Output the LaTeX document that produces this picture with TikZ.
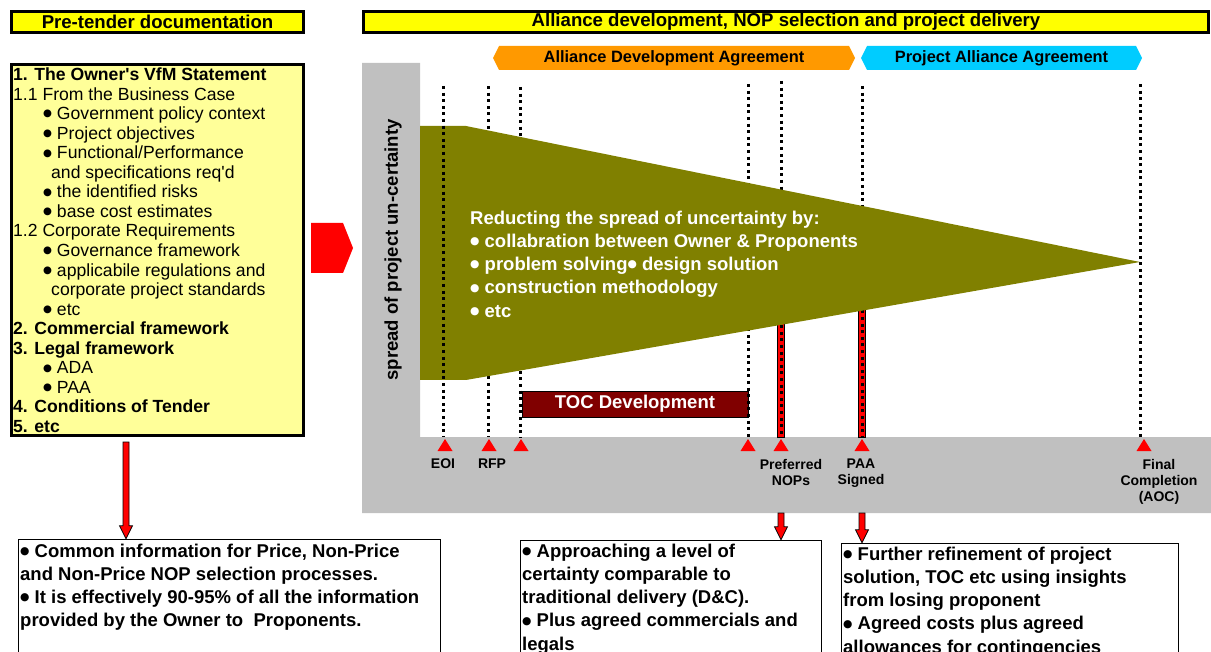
\documentclass[tikz,border=0pt]{standalone}
\usepackage{fontspec}
\setmainfont{Liberation Sans}[Ligatures=TeXOff]
\newfontfamily\symfont{DejaVu Sans}
\usetikzlibrary{positioning}
\usetikzlibrary{calc}
\definecolor{hdryellow}{HTML}{FFFF00}
\definecolor{paleyellow}{HTML}{FFFF99}
\definecolor{panelgray}{HTML}{C0C0C0}
\definecolor{oliveband}{HTML}{808000}
\definecolor{adaorange}{HTML}{FF9900}
\definecolor{paacyan}{HTML}{00CCFF}
\definecolor{tocred}{HTML}{800000}

\tikzset{
	header/.style={draw, line width=3pt, fill=hdryellow, minimum height=21pt, inner sep=0pt, font=\fontsize{18.6}{20}\selectfont\bfseries},
	banner/.style={inner sep=0pt, font=\fontsize{16.4}{18}\selectfont\bfseries},
	notebox/.style={draw, line width=1.5pt, fill=white, anchor=north west, inner sep=0pt},
	notetext/.style={anchor=north west, inner sep=0pt, align=left, font=\fontsize{18.5}{23.3}\selectfont\bfseries},
	dots/.style={line width=3pt, dash pattern=on 3pt off 3.6pt},
	milelabel/.style={anchor=north, inner sep=0pt, align=center, font=\fontsize{14}{16}\selectfont\bfseries},
}

% round bullet
\newcommand{\blt}{\raisebox{0.15em}{\scalebox{0.58}{\symfont ●}}}

% block arrow from #1 down to the tip #2
\newcommand{\blockarrow}[2]{%
	\filldraw[fill=red, draw=black, line width=0.8pt] let \p1=(#1), \p2=(#2) in
		(\x1-3pt,\y1) -- (\x1+3pt,\y1) -- (\x1+3pt,\y2+13pt) -- (\x1+6.5pt,\y2+13pt)
		-- (\x1,\y2) -- (\x1-6.5pt,\y2+13pt) -- (\x1-3pt,\y2+13pt) -- cycle;}

\begin{document}
\begin{tikzpicture}[x=1pt, y=-1pt]
	\useasboundingbox (0,0) rectangle (1211,652);
	% headers
	\node[header, minimum width=292pt] (pretender) at (157.5,22) {Pre-tender documentation};
	\node[header, minimum width=845pt] (alliance) at (786,22) {Alliance development, NOP selection and project delivery};

	% owner's VfM statement
	\node[draw, line width=3pt, fill=paleyellow, minimum width=292pt, minimum height=371pt] (vfmbox) at (157.5,250) {};
	\node[anchor=north west, inner sep=0pt, align=left, font=\fontsize{17.6}{19.56}\selectfont] (vfmtext) at (13,67.5) {%
		\textbf{1. The Owner's VfM Statement}\\
		1.1 From the Business Case\\
		\hspace*{30pt}\blt{} Government policy context\\
		\hspace*{30pt}\blt{} Project objectives\\
		\hspace*{30pt}\blt{} Functional/Performance\\
		\hspace*{38pt}and specifications req'd\\
		\hspace*{30pt}\blt{} the identified risks\\
		\hspace*{30pt}\blt{} base cost estimates\\
		1.2 Corporate Requirements\\
		\hspace*{30pt}\blt{} Governance framework\\
		\hspace*{30pt}\blt{} applicabile regulations and\\
		\hspace*{38pt}corporate project standards\\
		\hspace*{30pt}\blt{} etc\\
		\textbf{2. Commercial framework}\\
		\textbf{3. Legal framework}\\
		\hspace*{30pt}\blt{} ADA\\
		\hspace*{30pt}\blt{} PAA\\
		\textbf{4. Conditions of Tender}\\
		\textbf{5. etc}};

	\fill[red] (311,223) -- (343,223) -- (353,248) -- (343,273) -- (311,273) -- cycle;

	% grey panel
	\fill[panelgray] (362,63) -- (420,63) -- (420,437) -- (1211,437) -- (1211,513) -- (362,513) -- cycle;
	\coordinate (panelbottom) at (0,513);
	\node[rotate=90, inner sep=0pt, font=\fontsize{18.5}{20}\selectfont\bfseries] (spread) at (393,250) {spread of project un-certainty};

	% agreements
	\fill[adaorange] (499,46) -- (849,46) -- (855,58) -- (849,70) -- (499,70) -- (493,58) -- cycle;
	\node[banner] (adabanner) at (674,58) {Alliance Development Agreement};
	\fill[paacyan] (867,46) -- (1136,46) -- (1142,58) -- (1136,70) -- (867,70) -- (861,58) -- cycle;
	\node[banner] (paabanner) at (1001.5,58) {Project Alliance Agreement};

	\node[draw, fill=tocred, text=white, minimum width=226pt, minimum height=26pt, inner sep=0pt, font=\fontsize{18.5}{20}\selectfont\bfseries] (toc) at (635,404) {TOC Development};

	% milestones
	\coordinate (base) at (0,437);
	\coordinate (eoi) at (443,86);
	\coordinate (rfp) at (488,86);
	\coordinate (tocstart) at (520,87);
	\coordinate (tocend) at (748,84);
	\coordinate (nops) at (781,81);
	\coordinate (paa) at (862,86);
	\coordinate (final) at (1140,84);
	\foreach \m in {nops,paa}
		\filldraw[fill=red, draw=black, line width=1pt] ($(\m)+(-3.5,150)$) rectangle ($(\m |- base)+(3.5,0)$);
	\foreach \m in {rfp,tocstart,tocend,nops,paa}
		\draw[dots] (\m) -- (\m |- base);

	\fill[oliveband] (420,126) -- (466,126) -- (1140,262) -- (466,380) -- (420,380) -- cycle;
	\draw[dots] (eoi) -- (eoi |- base);
	\draw[dots] (final) -- (final |- base);
	\node[anchor=north west, inner sep=0pt, align=left, text=white, font=\fontsize{18.5}{23.3}\selectfont\bfseries] (spreadtext) at (470,210.4) {%
		Reducting the spread of uncertainty by:\\
		\blt{} collabration between Owner \& Proponents\\
		\blt{} problem solving\blt{} design solution\\
		\blt{} construction methodology\\
		\blt{} etc};

	\foreach \x in {445,489,521,748,781,862,1144}
		\fill[red] (\x-7.5,451) -- (\x,439) -- (\x+7.5,451) -- cycle;
	\node[milelabel] (eoilabel) at (443,459) {EOI};
	\node[milelabel] (rfplabel) at (492,459) {RFP};
	\node[milelabel] (nopslabel) at (791,459) {Preferred\\NOPs};
	\node[milelabel] (paalabel) at (861,459) {PAA\\Signed};
	\node[milelabel] (finallabel) at (1159,459) {Final\\Completion\\(AOC)};

	% outcome boxes
	\node[notebox, minimum width=422pt, minimum height=130pt] (commonbox) at (17.75,538.75) {};
	\node[notetext] (commontext) at (20,543.4) {%
		\blt{} Common information for Price, Non-Price\\
		and Non-Price NOP selection processes.\\
		\blt{} It is effectively 90-95\% of all the information\\
		provided by the Owner to\ \ Proponents.};
	\node[notebox, minimum width=301pt, minimum height=130pt] (certaintybox) at (519.75,539.75) {};
	\node[notetext] (certaintytext) at (522,543.4) {%
		\blt{} Approaching a level of\\
		certainty comparable to\\
		traditional delivery (D\&C).\\
		\blt{} Plus agreed commercials and\\
		legals};
	\node[notebox, minimum width=337pt, minimum height=130pt] (refinebox) at (840.75,542.75) {};
	\node[notetext] (refinetext) at (843,546.4) {%
		\blt{} Further refinement of project\\
		solution, TOC etc using insights\\
		from losing proponent\\
		\blt{} Agreed costs plus agreed\\
		allowances for contingencies};

	\blockarrow{[xshift=-31.5pt, yshift=-5pt]vfmbox.south}{[xshift=-102.75pt]commonbox.north}
	\blockarrow{nops |- panelbottom}{nops |- certaintybox.north}
	\blockarrow{paa |- panelbottom}{paa |- refinebox.north}
\end{tikzpicture}
\end{document}
